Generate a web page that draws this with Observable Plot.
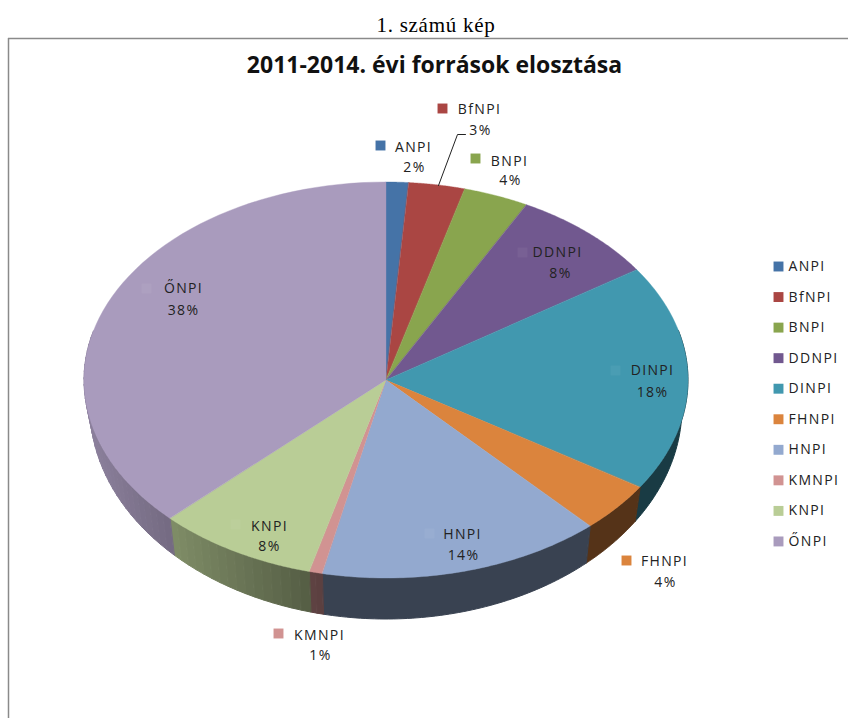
<!DOCTYPE html>
<html><head><meta charset="utf-8">
<script src="https://cdn.jsdelivr.net/npm/d3@7"></script>
<script src="https://cdn.jsdelivr.net/npm/@observablehq/plot@0.6"></script>
<style>
html,body{margin:0;padding:0;background:#fff;overflow:hidden}
#cap{height:38px;text-align:center;font:21px/50px "Liberation Serif",serif;color:#000;padding-left:24px;box-sizing:border-box;width:848px;letter-spacing:.75px}
svg{display:block}
g[font-size="14"]{letter-spacing:1.35px}
</style></head><body>
<div id="cap">1. számú kép</div>
<div id="chart"></div>
<script>
// data
const categories = ["ANPI","BfNPI","BNPI","DDNPI","DINPI","FHNPI","HNPI","KMNPI","KNPI","ŐNPI"];
const shares = [1.2,3.0,3.5,7.9,18.5,4.1,15.2,0.7,8.6,37.3];   // share of the drawn circle
const percentLabels = ["2%","3%","4%","8%","18%","4%","14%","1%","8%","38%"];
const colors = ["#4573a7","#aa4643","#89a54e","#71588f","#4198af","#db843d","#93a9cf","#d19392","#b9cd96","#a99bbd"];

// layout of the data labels: swatch x,y, name x,y, percent x,y
const labelLayout = [
  [380,145,413,147,414,167],[442,108,479,109,480,130],[475,158,509,161,510,180],
  [522,252,557,252,560,273],[615,370,652,370,652,392],[626,560,664,561,665,582],
  [429,533,462,534,463,555],[278,633,319,635,320,655],[235,524,269,526,269,546],
  [146,288,183,288,183,310]];
const insideLabels = new Set(["DDNPI","DINPI","HNPI","KNPI","ŐNPI"]);
const top3d = {cx:386, cy:380, rx:302, ry:198};
const bottom3d = {cx:386, cy:407, rx:296, ry:212};
const pt = (e,a)=>[e.cx+e.rx*Math.sin(a), e.cy-e.ry*Math.cos(a)];

const total = d3.sum(shares);
let acc = 0;
const slices = categories.map((c,i)=>{const a0=acc/total*2*Math.PI; acc+=shares[i]; return {c,i,a0,a1:acc/total*2*Math.PI};});

// top face: area between centre and rim
const topFace = slices.flatMap(s=>d3.range(0,61).map(k=>{
  const a=s.a0+(s.a1-s.a0)*k/60, [x,y]=pt(top3d,a);
  return {c:s.c,x1:top3d.cx,y1:top3d.cy,x2:x,y2:y,color:colors[s.i]};
}));

// side wall: one flat piece per slice, with shaded strips only where the reference has a gradient
const shade = x => x<330 ? 0.42+(330-x)/240*0.40 : 0.39;
const wall = slices.flatMap(s=>{
  const out=[]; const from=Math.max(s.a0,Math.PI*0.42), to=Math.min(s.a1,Math.PI*1.58);
  if(to<=from) return out;
  const col=d3.rgb(colors[s.i]);
  const tint=f=>d3.rgb(col.r*f,col.g*f,col.b*f).formatHex();
  const midX=pt(top3d,(from+to)/2)[0];
  const gradient=midX<330;
  const n=gradient?Math.ceil((to-from)/0.035):1;
  for(let k=0;k<n;k++){
    const a=from+(to-from)*k/n, b=from+(to-from)*(k+1)/n;
    const steps=gradient?1:60;
    const f=shade((pt(top3d,a)[0]+pt(top3d,b)[0])/2);
    for(let j=0;j<=steps;j++){
      const t=a+(b-a)*j/steps,[x1,y1]=pt(top3d,t),[x2,y2]=pt(bottom3d,t);
      out.push({id:s.c+k,x1,y1,x2,y2,color:tint(gradient?f:0.39)});
    }
  }
  return out;
});

const labels = categories.map((c,i)=>{const l=labelLayout[i];return {c,pct:percentLabels[i],color:colors[i],sx:l[0],sy:l[1],nx:l[2],ny:l[3],px:l[4],py:l[5],inside:insideLabels.has(c)};});
const legend = categories.map((c,i)=>({c,color:colors[i],y:266+i*30.55}));
const leader = [{x:438,y:185},{x:457,y:134},{x:465,y:134}];
const font = {fontFamily:"'Open Sans',sans-serif",fontSize:14,fill:"#222"};

const plot = Plot.plot({
  width:848,height:680,margin:0,
  x:{domain:[0,848],range:[0,848],axis:null},
  y:{domain:[718,38],range:[680,0],axis:null},
  style:{background:"#fff",overflow:"visible"},
  marks:[
    Plot.ruleY([38],{x1:8,x2:848,stroke:"#8a8a8a",strokeWidth:1.5}),
    Plot.ruleX([8],{y1:38,y2:718,stroke:"#8a8a8a",strokeWidth:1.5}),
    Plot.text(["2011-2014. évi források elosztása"],{x:()=>434,y:()=>65,fontFamily:"'Open Sans',sans-serif",fontWeight:700,fontSize:23,fill:"#111"}),
    Plot.area(wall,{x1:"x1",y1:"y1",x2:"x2",y2:"y2",z:"id",fill:d=>d.color,stroke:d=>d.color,strokeWidth:1,curve:"linear"}),
    Plot.area(topFace,{x1:"x1",y1:"y1",x2:"x2",y2:"y2",z:"c",fill:d=>d.color,stroke:d=>d.color,strokeWidth:0.4,curve:"linear"}),
    Plot.line(leader,{x:"x",y:"y",stroke:"#222",strokeWidth:1}),
    Plot.dot(labels.filter(d=>!d.inside),{x:"sx",y:"sy",symbol:"square",r:5.6,fill:d=>d.color,stroke:null}),
    Plot.dot(labels.filter(d=>d.inside),{x:"sx",y:"sy",symbol:"square",r:5.6,fill:"#fff",fillOpacity:0.05,stroke:null}),
    Plot.text(labels,{x:"nx",y:"ny",text:"c",...font}),
    Plot.text(labels,{x:"px",y:"py",text:"pct",...font}),
    Plot.dot(legend,{x:()=>778,y:"y",symbol:"square",r:5.6,fill:d=>d.color,stroke:null}),
    Plot.text(legend,{x:()=>788,y:"y",text:"c",textAnchor:"start",...font})
  ]
});
document.getElementById("chart").append(plot);
</script>
</body></html>
